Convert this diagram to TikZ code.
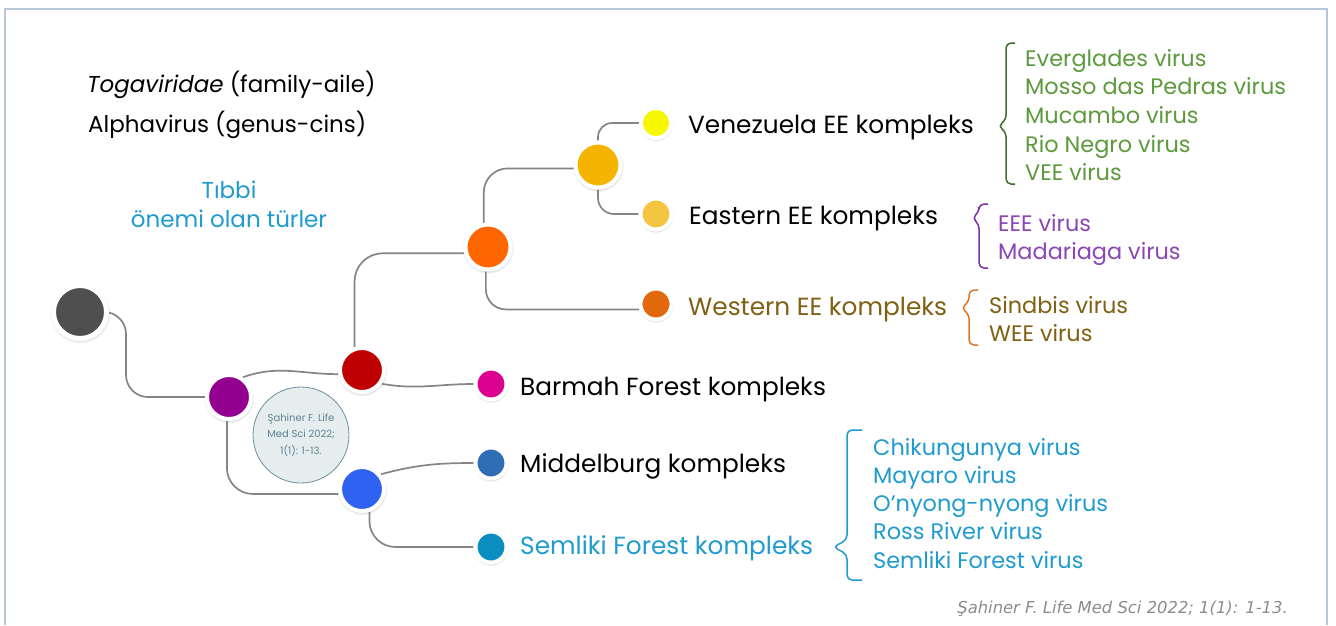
\documentclass[tikz,border=0pt]{standalone}
\usepackage{fontspec}
\setmainfont{Poppins}
\newfontfamily\citefont{DejaVu Sans}
\usetikzlibrary{shadows,backgrounds}

\definecolor{darkbead}{HTML}{4F4F4F}
\definecolor{alphapurple}{HTML}{93008F}
\definecolor{redbead}{HTML}{BF0000}
\definecolor{bluebead}{HTML}{3062F2}
\definecolor{orangebead}{HTML}{FF6600}
\definecolor{goldbead}{HTML}{F5B400}
\definecolor{yellowbead}{HTML}{F7F700}
\definecolor{lightgold}{HTML}{F4C542}
\definecolor{darkorange}{HTML}{E2680E}
\definecolor{magentabead}{HTML}{DC0090}
\definecolor{steelbead}{HTML}{2F6DB5}
\definecolor{tealbead}{HTML}{0A8EC0}
\definecolor{linkgray}{HTML}{858585}
\definecolor{framecol}{HTML}{B7C6DB}
\definecolor{veegreen}{HTML}{5C9A3C}
\definecolor{veebrace}{HTML}{3F6E30}
\definecolor{eeepurple}{HTML}{8A46B6}
\definecolor{eeebrace}{HTML}{7A32A8}
\definecolor{westbrown}{HTML}{806012}
\definecolor{weebrace}{HTML}{DE7628}
\definecolor{sfcyan}{HTML}{1F9BCF}
\definecolor{reffill}{HTML}{E6EDEF}
\definecolor{refedge}{HTML}{6A8F9B}
\definecolor{reftext}{HTML}{5E828E}
\definecolor{citegray}{HTML}{8C8C8C}

\begin{document}
\begin{tikzpicture}[x=1pt,y=-1pt,
    bead/.style={circle, inner sep=0pt, minimum size=31pt, draw=white, line width=4pt, fill=#1,
      circular drop shadow={shadow xshift=0pt, shadow yshift=-1pt, shadow scale=1.15, opacity=0.3}},
    link/.style={draw=linkgray, line width=1.7pt},
    lbl/.style={anchor=base west, inner sep=0pt, font=\fontsize{24.8}{30}\selectfont},
    head/.style={anchor=base west, inner sep=0pt, font=\fontsize{23}{28}\selectfont},
    item/.style={anchor=base west, inner sep=0pt, font=\fontsize{22.4}{26}\selectfont, text=#1},
    brace/.style={draw=#1, line width=1.5pt, rounded corners=5pt}]
    \useasboundingbox (0,0) rectangle (1336,625);
    %% Frame
    \draw[framecol, line width=1.5pt] (5,625) |- (1327,9) -- (1327,625);
    %% Heading
    \node[head] (family) at (87,92) {\textit{Togaviridae} (family-aile)};
    \node[head] (genus) at (88,132) {Alphavirus (genus-cins)};
    \node[head, anchor=base, text=sfcyan] (tibbi) at (229,198) {Tıbbi};
    \node[head, anchor=base, text=sfcyan] (onemi) at (229,227) {önemi olan türler};
    %% Beads
    \node[bead=darkbead, minimum size=53pt, line width=5pt] (root) at (80,312) {};
    \node[bead=alphapurple, minimum size=44pt] (alpha) at (229,397) {};
    \node[bead=redbead, minimum size=44pt] (upper) at (362,370) {};
    \node[bead=bluebead, minimum size=44pt] (lower) at (362,489) {};
    \node[bead=orangebead, minimum size=45pt] (ee) at (488,247) {};
    \node[bead=goldbead, minimum size=45pt] (veeeee) at (598,165) {};
    \node[bead=yellowbead, minimum size=30pt] (vee) at (656,123) {};
    \node[bead=lightgold] (eee) at (656,214) {};
    \node[bead=darkorange] (wee) at (656,304) {};
    \node[bead=magentabead] (bf) at (491,384) {};
    \node[bead=steelbead] (mid) at (491,463) {};
    \node[bead=tealbead] (sf) at (491,547) {};
    %% Reference bubble
    \node[circle, minimum size=96pt, inner sep=0pt, fill=reffill, draw=refedge, line width=0.8pt,
      align=center, text=reftext, font=\fontsize{10}{16.5}\selectfont] (ref) at (301,435)
      {Şahiner F. Life\\Med Sci 2022;\\1(1): 1-13.};
    %% Links
    \begin{pgfonlayer}{background}
        \fill[white] (0,0) rectangle (1336,625);
        \draw[link, rounded corners=22pt] (root.east) -- ++(17,0) |- (alpha.west);
        \draw[link] (alpha.55) to[out=20,in=180] (upper.190);
        \draw[link, rounded corners=26pt] (alpha.265) |- (lower.192);
        \draw[link, rounded corners=28pt] (upper.108) |- (ee.195);
        \draw[link] (upper.325) to[out=-10,in=180] (bf.west);
        \draw[link] (lower.38) to[out=15,in=180] (mid.west);
        \draw[link, rounded corners=26pt] (lower.288) |- (sf.west);
        \draw[link, rounded corners=24pt] (ee.100) |- (veeeee.188);
        \draw[link, rounded corners=20pt] (ee.265) |- (wee.198);
        \draw[link, rounded corners=14pt] (veeeee.north) |- (vee.west);
        \draw[link, rounded corners=16pt] (veeeee.south) |- (eee.west);
    \end{pgfonlayer}
    %% Complex labels
    \node[lbl] (veelbl) at (688,133) {Venezuela EE kompleks};
    \node[lbl] (eeelbl) at (689,224) {Eastern EE kompleks};
    \node[lbl, text=westbrown] (weelbl) at (688,315) {Western EE kompleks};
    \node[lbl] (bflbl) at (520,395) {Barmah Forest kompleks};
    \node[lbl] (midlbl) at (520,472) {Middelburg kompleks};
    \node[lbl, text=sfcyan] (sflbl) at (520,554) {Semliki Forest kompleks};
    %% Virus lists
    \foreach \v [count=\i from 0] in {Everglades virus, Mosso das Pedras virus, Mucambo virus, Rio Negro virus, VEE virus}
        \node[item=veegreen] (veeitem\i) at (1025,66+28.7*\i) {\v};
    \foreach \v [count=\i from 0] in {EEE virus, Madariaga virus}
        \node[item=eeepurple] (eeeitem\i) at (998,231+28.5*\i) {\v};
    \foreach \v [count=\i from 0] in {Sindbis virus, WEE virus}
        \node[item=westbrown] (weeitem\i) at (989,313+28.5*\i) {\v};
    \foreach \v [count=\i from 0] in {Chikungunya virus, Mayaro virus, O’nyong-nyong virus, Ross River virus, Semliki Forest virus}
        \node[item=sfcyan] (sfitem\i) at (873,455+28.3*\i) {\v};
    %% Braces
    \draw[brace=veebrace] (1015,43) -- (1006,43) -- (1006,120) -- (998,126) -- (1006,132) -- (1006,184) -- (1015,184);
    \draw[brace=eeebrace] (988,204) -- (979,204) -- (979,212) -- (972,218) -- (979,224) -- (979,268) -- (988,268);
    \draw[brace=weebrace] (978,290) -- (969,290) -- (969,302) -- (961,308) -- (969,314) -- (969,345) -- (978,345);
    \draw[brace=sfcyan] (862,430) -- (847,430) -- (847,540) -- (833,547) -- (847,554) -- (847,580) -- (862,580);
    %% Citation
    \node[anchor=base east, inner sep=0pt, text=citegray, font={\citefont\itshape\fontsize{16.4}{19}\selectfont}] (cite) at (1288,613)
        {Şahiner F. Life Med Sci 2022; 1(1): 1-13.};
\end{tikzpicture}
\end{document}
